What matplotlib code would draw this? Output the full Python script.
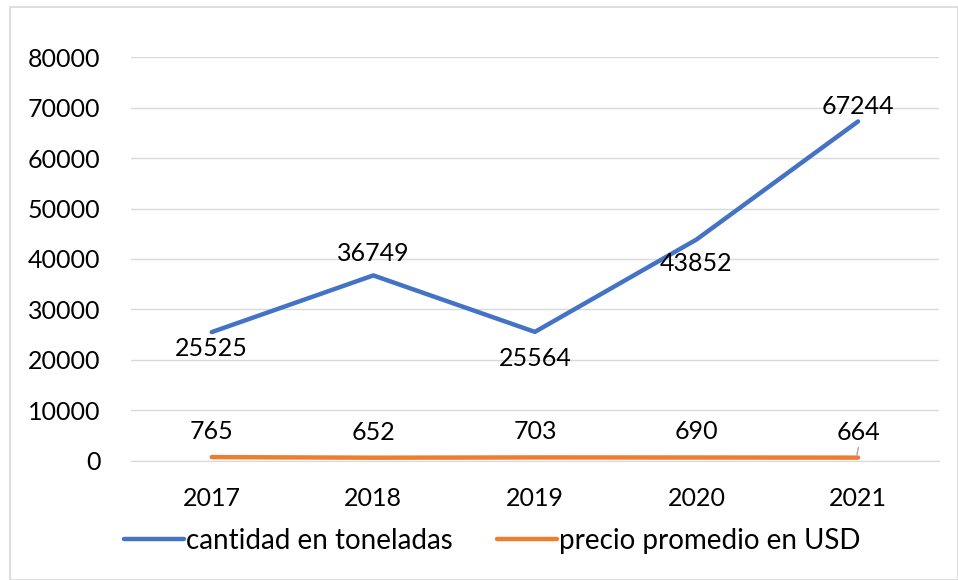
import matplotlib
matplotlib.use("Agg")
import matplotlib.pyplot as plt
from matplotlib.patches import Rectangle

plt.rcParams['font.family'] = ['Lato', 'DejaVu Sans']

years = ["2017", "2018", "2019", "2020", "2021"]
cantidad = [25525, 36749, 25564, 43852, 67244]
precio = [765, 652, 703, 690, 664]

# label baseline offsets in pixels (positive = below the point)
cantidad_label_px = [24, -14, 34, 31, -7]
precio_label_px = -18

blue = "#4472C4"
orange = "#ED7D31"

fig = plt.figure(figsize=(9.58, 5.8), dpi=100)
ax = fig.add_axes([0.1367, 0.2052, 0.8433, 0.6965])

x = list(range(len(years)))
ax.plot(x, cantidad, color=blue, lw=3.2, solid_capstyle='round', label="cantidad en toneladas", zorder=3)
ax.plot(x, precio, color=orange, lw=3.2, solid_capstyle='round', label="precio promedio en USD", zorder=3)

ax.set_xlim(-0.5, len(years) - 0.5)
ax.set_ylim(0, 80000)
ax.set_yticks(range(0, 80001, 10000))
ax.set_xticks(x)
ax.set_xticklabels(years)
ax.grid(axis='y', color='#D9D9D9', lw=1)
ax.set_axisbelow(True)
for s in ['top', 'right', 'left']:
    ax.spines[s].set_visible(False)
ax.spines['bottom'].set_color('#D9D9D9')
ax.tick_params(axis='both', length=0, labelsize=18, colors='#000000')
ax.tick_params(axis='y', pad=22)
ax.tick_params(axis='x', pad=19)

px2pt = 72 / 100
for xi, v, off in zip(x, cantidad, cantidad_label_px):
    ax.annotate(str(v), (xi, v), xytext=(0, -off * px2pt), textcoords='offset points',
                ha='center', va='baseline', fontsize=18)
for xi, v in zip(x, precio):
    ax.annotate(str(v), (xi, v), xytext=(0, -precio_label_px * px2pt), textcoords='offset points',
                ha='center', va='baseline', fontsize=18)
# leader line for last label
ax.annotate("", xy=(x[-1] - 0.01, precio[-1]), xytext=(x[-1] + 0.005, 3200),
            arrowprops=dict(arrowstyle='-', color='#A6A6A6', lw=1))

leg = fig.legend(loc='center', bbox_to_anchor=(0.514, 0.067), ncol=2, frameon=False,
                 fontsize=20, handlelength=2.15, handletextpad=0.08, columnspacing=1.6)

fig.patches.append(Rectangle((10/958, 0), 1 - 10/958, 1 - 7/580, transform=fig.transFigure,
                             fill=False, edgecolor='#D9D9D9', lw=1.2))

fig.savefig("out.png", dpi=100)
